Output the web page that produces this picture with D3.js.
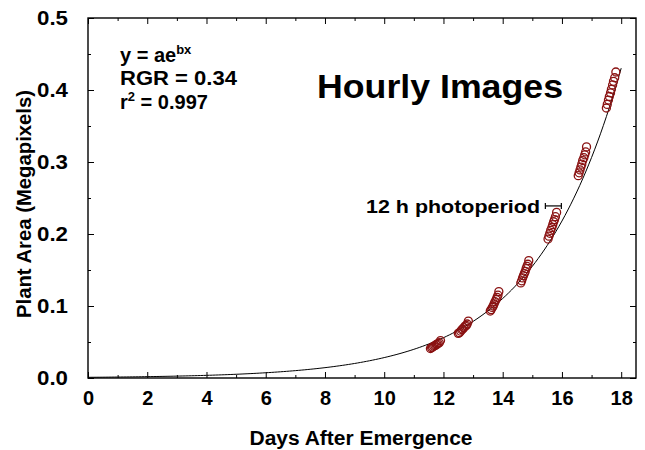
<!DOCTYPE html>
<html><head><meta charset="utf-8">
<script src="https://cdn.jsdelivr.net/npm/d3@7"></script>
<style>
html,body{margin:0;padding:0;background:#fff;}
svg{display:block;font-family:"Liberation Sans",Arial,sans-serif;}
</style></head>
<body><svg id="c" width="645" height="450"></svg>
<script>
// ---- data ----
const xMajorTicks = [0,2,4,6,8,10,12,14,16,18];
const xMinorTicks = [1,3,5,7,9,11,13,15,17];
const yMajorTicks = [0.0,0.1,0.2,0.3,0.4,0.5];
const yMinorTicks = [0.05,0.15,0.25,0.35,0.45];
const fitA = 0.000946;   // y = a e^(b x)
const fitB = 0.34;
const days = [
  11.56,11.60,11.63,11.67,11.71,11.75,11.78,11.82,11.86,11.90,
  12.50,12.54,12.58,12.62,12.65,12.69,12.73,12.77,12.80,12.84,
  13.58,13.61,13.65,13.68,13.71,13.74,13.78,13.81,13.84,13.87,
  14.61,14.64,14.67,14.70,14.73,14.76,14.79,14.82,14.85,14.88,
  15.53,15.56,15.59,15.62,15.66,15.69,15.72,15.75,15.78,15.82,
  16.55,16.58,16.61,16.64,16.67,16.70,16.74,16.77,16.80,16.83,
  17.50,17.53,17.57,17.60,17.64,17.67,17.71,17.74,17.78,17.82
];
const area = [
  0.041,0.042,0.043,0.044,0.045,0.046,0.047,0.048,0.049,0.052,
  0.062,0.063,0.065,0.067,0.068,0.070,0.072,0.073,0.075,0.079,
  0.093,0.095,0.098,0.100,0.103,0.106,0.109,0.112,0.115,0.120,
  0.132,0.135,0.139,0.142,0.145,0.148,0.152,0.155,0.158,0.163,
  0.193,0.197,0.201,0.205,0.209,0.213,0.217,0.220,0.224,0.230,
  0.281,0.285,0.289,0.293,0.297,0.302,0.306,0.310,0.314,0.321,
  0.375,0.380,0.386,0.391,0.396,0.401,0.407,0.412,0.417,0.425
];
const curveDays = d3.range(0, 18.01, 0.1);
const photoperiod = [15.44, 15.98];   // 12 h span marker (days)
const photoY = 0.239;

// ---- layout ----
const L = 88, R = 636, T = 18, B = 378;
const svg = d3.select("#c");
const x = d3.scaleLinear().domain([0, 18.5]).range([L, R]);
const y = d3.scaleLinear().domain([0, 0.5]).range([B, T]);

// frame
svg.append("rect").attr("x", L).attr("y", T).attr("width", R-L).attr("height", B-T)
  .attr("fill","none").attr("stroke","#000").attr("stroke-width",1.4);

function styleAxis(g){
  g.select(".domain").remove();
  g.selectAll(".tick line").attr("stroke","#000").attr("stroke-width",1);
  g.selectAll(".tick text").attr("font-size",20).attr("font-weight","bold")
    .attr("font-family","'Liberation Sans',Arial,sans-serif").attr("fill","#000");
}
// bottom
svg.append("g").attr("transform",`translate(0,${B})`)
  .call(d3.axisBottom(x).tickValues(xMajorTicks).tickSizeInner(-6).tickSizeOuter(0).tickPadding(13).tickFormat(d3.format("d")))
  .call(styleAxis);
svg.append("g").attr("transform",`translate(0,${B})`)
  .call(d3.axisBottom(x).tickValues(xMinorTicks).tickSizeInner(-3).tickSizeOuter(0).tickFormat(""))
  .call(styleAxis);
// top
svg.append("g").attr("transform",`translate(0,${T})`)
  .call(d3.axisTop(x).tickValues(xMajorTicks).tickSizeInner(-6).tickSizeOuter(0).tickFormat(""))
  .call(styleAxis);
svg.append("g").attr("transform",`translate(0,${T})`)
  .call(d3.axisTop(x).tickValues(xMinorTicks).tickSizeInner(-3).tickSizeOuter(0).tickFormat(""))
  .call(styleAxis);
// left
svg.append("g").attr("transform",`translate(${L},0)`)
  .call(d3.axisLeft(y).tickValues(yMajorTicks).tickSizeInner(-6).tickSizeOuter(0).tickPadding(20).tickFormat(d3.format(".1f")))
  .call(styleAxis)
  .call(g => g.selectAll(".tick text").attr("textLength",31).attr("lengthAdjust","spacingAndGlyphs"));
svg.append("g").attr("transform",`translate(${L},0)`)
  .call(d3.axisLeft(y).tickValues(yMinorTicks).tickSizeInner(-3).tickSizeOuter(0).tickFormat(""))
  .call(styleAxis);
// right
svg.append("g").attr("transform",`translate(${R},0)`)
  .call(d3.axisRight(y).tickValues(yMajorTicks).tickSizeInner(-6).tickSizeOuter(0).tickFormat(""))
  .call(styleAxis);
svg.append("g").attr("transform",`translate(${R},0)`)
  .call(d3.axisRight(y).tickValues(yMinorTicks).tickSizeInner(-3).tickSizeOuter(0).tickFormat(""))
  .call(styleAxis);

// fitted curve
const line = d3.line().x(d => x(d)).y(d => y(fitA*Math.exp(fitB*d)));
svg.append("path").datum(curveDays).attr("d", line)
  .attr("fill","none").attr("stroke","#000").attr("stroke-width",1);

// points
svg.append("g").selectAll("circle").data(days).join("circle")
  .attr("cx",(d,i)=>x(d)).attr("cy",(d,i)=>y(area[i])).attr("r",4)
  .attr("fill","none").attr("stroke","#8a1212").attr("stroke-width",1.3);

// axis titles
svg.append("text").attr("x",361).attr("y",445).attr("text-anchor","middle")
  .attr("font-size",20).attr("font-weight","bold")
  .attr("textLength",223).attr("lengthAdjust","spacingAndGlyphs")
  .text("Days After Emergence");
svg.append("text").attr("transform","translate(31,204) rotate(-90)").attr("text-anchor","middle")
  .attr("font-size",20).attr("font-weight","bold")
  .attr("textLength",228).attr("lengthAdjust","spacingAndGlyphs")
  .text("Plant Area (Megapixels)");

// formula block
const f1 = svg.append("text").attr("x",120).attr("y",62).attr("font-size",20).attr("font-weight","bold");
f1.append("tspan").text("y = ae");
f1.append("tspan").attr("dy",-8).attr("font-size",13).text("bx");
svg.append("text").attr("x",120).attr("y",85).attr("font-size",20).attr("font-weight","bold")
  .attr("textLength",117).attr("lengthAdjust","spacingAndGlyphs").text("RGR = 0.34");
const f3 = svg.append("text").attr("x",120).attr("y",109).attr("font-size",20).attr("font-weight","bold");
f3.append("tspan").text("r");
f3.append("tspan").attr("dy",-8).attr("font-size",13).text("2");
f3.append("tspan").attr("dy",8).text(" = 0.997");

// big title
svg.append("text").attr("x",317).attr("y",98).attr("font-size",34).attr("font-weight","bold")
  .attr("textLength",246).attr("lengthAdjust","spacingAndGlyphs").text("Hourly Images");

// photoperiod annotation
svg.append("text").attr("x",540).attr("y",213).attr("text-anchor","end")
  .attr("font-size",18).attr("font-weight","bold")
  .attr("textLength",174).attr("lengthAdjust","spacingAndGlyphs").text("12 h photoperiod");
const pg = svg.append("g").attr("stroke","#000").attr("stroke-width",1.2);
const py = y(photoY);
pg.append("line").attr("x1",x(photoperiod[0])).attr("x2",x(photoperiod[1])).attr("y1",py).attr("y2",py);
pg.append("line").attr("x1",x(photoperiod[0])).attr("x2",x(photoperiod[0])).attr("y1",py-3).attr("y2",py+3);
pg.append("line").attr("x1",x(photoperiod[1])).attr("x2",x(photoperiod[1])).attr("y1",py-3).attr("y2",py+3);
</script></body></html>
